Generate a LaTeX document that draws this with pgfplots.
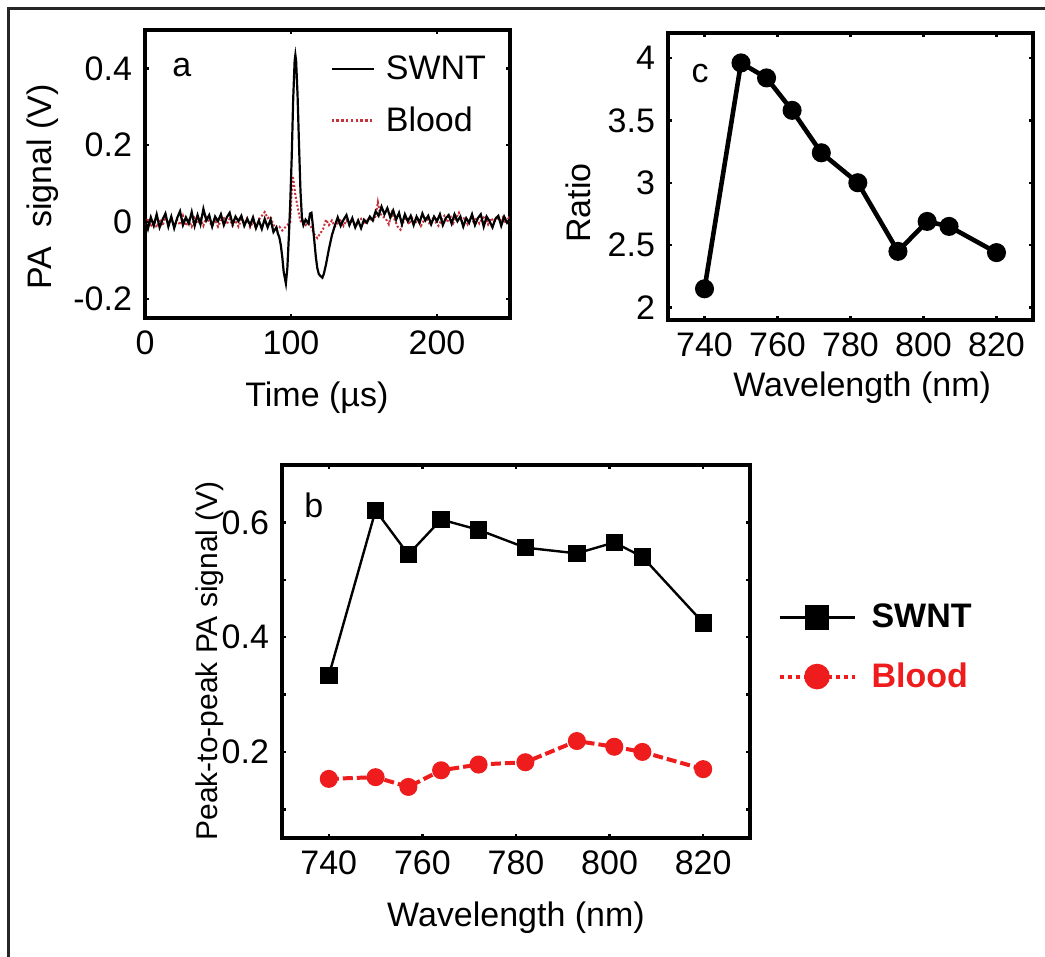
\documentclass[border=0pt]{standalone}
\usepackage{fontspec}
\setmainfont{Liberation Sans}
\usepackage{pgfplots}
\pgfplotsset{compat=1.18}

\definecolor{bred}{HTML}{EE1C1C}
\definecolor{dred}{HTML}{C8313A}

\newcommand{\bigfont}{\fontsize{17bp}{20bp}\selectfont}

\pgfplotsset{
  mstyle/.style={
    scale only axis,
    axis line style={line width=1.6bp},
    tick align=inside,
    tick pos=both,
    major tick length=2bp,
    tick style={black, line width=1.2bp},
    tick label style={font=\bigfont},
    label style={font=\bigfont},
    xticklabel style={yshift=-3bp},
    yticklabel style={xshift=-3bp},
    clip mode=individual,
  },
}

\begin{document}
\begin{tikzpicture}
\useasboundingbox (0,0) rectangle (522.5bp,478.5bp);
\draw[line width=1.5bp, black!85] (4bp,0) -- (4bp,474bp) -- (522.5bp,474bp);

% ---------- panel a ----------
\begin{axis}[mstyle,
  at={(72.5bp,319.5bp)}, anchor=south west,
  width=182.5bp, height=144bp,
  xmin=0, xmax=250, ymin=-0.25, ymax=0.5,
  xtick={0,100,200}, xticklabels={0,100,200},
  ytick={-0.2,0,0.2,0.4}, yticklabels={-0.2,0,0.2,0.4},
  xlabel={Time (µs)}, ylabel={PA\ \ signal (V)},
  xlabel style={at={(axis description cs:0.471,-0.278)}, anchor=center},
  ylabel style={at={(axis description cs:-0.279,0.455)}, anchor=center},
  legend image code/.code={\draw[#1] (0bp,0bp) -- (21bp,0bp);},
  legend style={draw=none, fill=none, font=\bigfont,
    at={(axis description cs:0.507,0.774)}, anchor=west,
    inner sep=0pt, row sep=12bp, nodes={inner sep=0pt},
    /tikz/every odd column/.style={column sep=5.5bp}},
  legend cell align=left,
]
\addlegendimage{black, line width=1bp}
\addlegendentry{SWNT}
\addlegendimage{dred, dash pattern=on 1.2bp off 1.2bp, line width=1.2bp}
\addlegendentry{Blood}

\addplot[forget plot, dred, densely dotted, line width=1bp] coordinates {
(0,-0.006) (2,0.01) (4,-0.012) (6,0.004) (8,-0.014) (10,0.008) (12,-0.01)
(14,0.012) (16,-0.004) (18,0.01) (20,-0.012) (22,0.006) (24,-0.008) (26,0.016)
(28,-0.01) (30,0.004) (32,-0.012) (34,0.01) (36,-0.004) (38,0.008) (40,-0.01)
(42,0.012) (44,0.0) (46,-0.01) (48,0.006) (50,-0.012) (52,0.004) (54,0.01)
(56,-0.006) (58,0.008) (60,-0.01) (62,0.004) (64,-0.012) (66,0.006) (68,-0.004)
(70,0.01) (72,-0.014) (74,0.0) (76,-0.016) (78,0.006) (80,0.016) (82,0.026)
(84,0.01) (86,0.014) (88,-0.008) (90,-0.016) (92,-0.012) (94,-0.022) (96,-0.014)
(98,-0.006) (99.5,0.0) (100.5,0.08) (101.2,0.12) (102,0.1) (103,0.07) (104,0.05)
(105,0.03) (106,0.01) (107,-0.002) (108,0.006) (110,-0.008) (112,-0.002)
(114,-0.014) (116,-0.032) (118,-0.042) (120,-0.03) (122,-0.018) (124,0.006)
(126,-0.008) (128,0.004) (130,-0.012) (132,-0.004) (134,0.008) (136,-0.01)
(138,0.004) (140,-0.006) (142,0.008) (144,-0.012) (146,-0.002) (148,0.008)
(150,-0.006) (152,0.004) (154,0.01) (156,0.002) (158,0.016) (159.5,0.052)
(161,0.022) (163,0.014) (165,0.008) (167,-0.006) (169,0.024) (171,0.006)
(173,-0.012) (175,-0.02) (177,0.0) (179,0.012) (181,-0.006) (183,0.01)
(185,-0.004) (187,0.008) (189,-0.01) (191,0.004) (193,0.012) (195,-0.006)
(197,0.008) (199,0.0) (201,-0.01) (203,0.006) (205,0.016) (207,0.0) (209,0.018)
(211,-0.004) (213,0.01) (215,0.024) (217,0.002) (219,0.012) (221,-0.006)
(223,0.01) (225,0.0) (227,0.012) (229,-0.004) (231,0.008) (233,0.016)
(235,-0.006) (237,0.01) (239,0.0) (241,0.014) (243,0.002) (245,0.012)
(247,-0.004) (249,0.01) (250,0.002)
};
\addplot[forget plot, black, line width=1.1bp] coordinates {
(0,0.008) (2,-0.018) (4,0.012) (6,-0.01) (8,0.02) (10,-0.014) (12,0.006)
(14,0.022) (16,-0.012) (18,0.014) (20,-0.016) (22,0.01) (24,0.028) (26,-0.008)
(28,0.012) (30,-0.004) (32,0.026) (34,-0.01) (36,0.018) (38,-0.006) (40,0.034)
(42,0.004) (44,0.018) (46,-0.012) (48,0.014) (50,0.002) (52,0.02) (54,-0.008)
(56,0.012) (58,0.024) (60,-0.006) (62,0.014) (64,0.002) (66,0.016) (68,-0.01)
(70,0.008) (72,-0.008) (74,0.012) (76,-0.016) (78,0.004) (80,-0.018) (82,0.008)
(84,-0.014) (86,0.006) (88,-0.026) (90,-0.014) (91,-0.03) (92,-0.04) (93,-0.06)
(94,-0.09) (95,-0.13) (96.5,-0.16) (97.5,-0.12) (98.5,-0.04) (99.5,0.05)
(100.5,0.17) (101.5,0.32) (102.5,0.42) (103,0.435) (103.5,0.42) (104.5,0.33)
(105.5,0.2) (106.5,0.08) (107.5,0.01) (108.5,-0.008) (110,0.006) (112,-0.004)
(113,0.022) (114,0.024) (115,-0.01) (116,-0.05) (117,-0.09) (118,-0.12)
(119,-0.135) (120,-0.14) (121.5,-0.145) (122.5,-0.135) (124,-0.11) (126,-0.07)
(128,-0.035) (130,-0.01) (132,0.012) (134,-0.01) (136,0.006) (138,0.018)
(140,-0.008) (142,0.01) (144,-0.014) (146,0.004) (148,-0.016) (150,0.006)
(152,-0.002) (154,0.014) (156,0.004) (158,0.028) (160,0.016) (162,0.04)
(164,0.02) (166,0.036) (168,0.012) (170,0.03) (172,0.006) (174,0.024)
(176,-0.006) (178,0.02) (180,0.002) (182,0.016) (184,-0.008) (186,0.014)
(188,-0.002) (190,0.022) (192,0.004) (194,0.016) (196,-0.006) (198,0.014)
(200,0.002) (202,0.02) (204,-0.008) (206,0.01) (208,0.018) (210,-0.004)
(212,0.02) (214,0.002) (216,0.014) (218,-0.012) (220,0.01) (222,-0.002)
(224,0.02) (226,-0.008) (228,0.01) (230,0.02) (232,-0.012) (234,0.014)
(236,0.002) (238,-0.014) (240,0.008) (242,0.016) (244,-0.01) (246,0.014)
(248,-0.002) (250,0.008)
};
\node[anchor=base, font=\bigfont] at (axis description cs:0.101,0.840) {a};
\end{axis}

% ---------- panel c ----------
\begin{axis}[mstyle,
  at={(334bp,318.5bp)}, anchor=south west,
  width=182.5bp, height=143.5bp,
  axis line style={line width=2bp},
  xmin=730, xmax=830, ymin=1.9, ymax=4.2,
  xtick={740,760,780,800,820}, xticklabels={740,760,780,800,820},
  ytick={2,2.5,3,3.5,4}, yticklabels={2,2.5,3,3.5,4},
  xlabel={Wavelength (nm)}, ylabel={Ratio},
  xlabel style={at={(axis description cs:0.532,-0.237)}, anchor=center},
  ylabel style={at={(axis description cs:-0.247,0.408)}, anchor=center},
]
\addplot[black, line width=2.3bp, mark=*, mark size=3.6bp] coordinates {
(740,2.15) (750,3.96) (757,3.84) (764,3.58) (772,3.24) (782,3.0)
(793,2.45) (801,2.69) (807,2.65) (820,2.44)
};
\node[anchor=base, font=\bigfont] at (axis description cs:0.088,0.829) {c};
\end{axis}

% ---------- panel b ----------
\begin{axis}[mstyle,
  at={(141bp,59.5bp)}, anchor=south west,
  width=234bp, height=186.5bp,
  axis line style={line width=2bp},
  xmin=730, xmax=830, ymin=0.05, ymax=0.7,
  xtick={740,760,780,800,820}, xticklabels={740,760,780,800,820},
  ytick={0.1,0.2,0.3,0.4,0.5,0.6}, yticklabels={,0.2,,0.4,,0.6},
  xlabel={Wavelength (nm)}, ylabel={Peak-to-peak PA signal (V)},
  xlabel style={at={(axis description cs:0.5,-0.214)}, anchor=center},
  ylabel style={at={(axis description cs:-0.154,0.475)}, anchor=center,
    font=\fontsize{15bp}{18bp}\selectfont},
  legend image code/.code={\draw[mark repeat=2, mark phase=2, #1]
    plot coordinates {(0bp,0bp) (18.75bp,0bp) (37.5bp,0bp)};},
  legend style={draw=none, fill=none, font=\bigfont\bfseries,
    at={(axis description cs:1.058,0.5115)}, anchor=west,
    inner sep=0pt, row sep=16bp, nodes={inner sep=0pt},
    /tikz/every odd column/.style={column sep=7.5bp}},
  legend cell align=left,
]
\addlegendimage{black, line width=1.6bp, mark=square*, mark size=5.4bp}
\addlegendentry{SWNT}
\addlegendimage{bred, line width=2bp, dash pattern=on 2bp off 2bp,
  mark=*, mark size=5.4bp, mark options={solid}}
\addlegendentry{\textcolor{bred}{Blood}}

\addplot[forget plot, black, line width=1.2bp, mark=square*, mark size=3.75bp] coordinates {
(740,0.333) (750,0.621) (757,0.544) (764,0.605) (772,0.587) (782,0.556)
(793,0.546) (801,0.565) (807,0.540) (820,0.425)
};
\addplot[forget plot, bred, line width=2bp, dash pattern=on 5bp off 2bp,
  mark=*, mark size=3.5bp, mark options={solid}] coordinates {
(740,0.153) (750,0.156) (757,0.139) (764,0.168) (772,0.178) (782,0.182)
(793,0.219) (801,0.209) (807,0.200) (820,0.170)
};
\node[anchor=base, font=\bigfont] at (axis description cs:0.068,0.858) {b};
\end{axis}
\end{tikzpicture}
\end{document}
